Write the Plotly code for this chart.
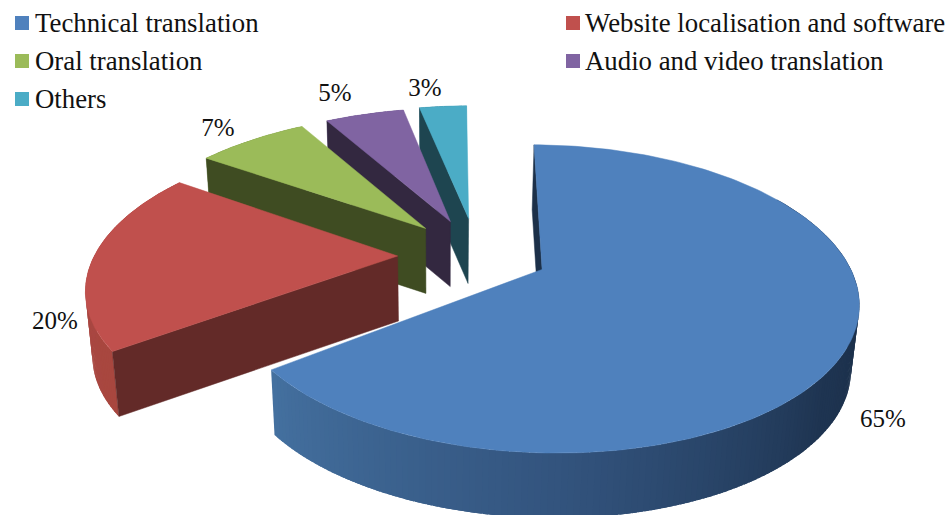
import numpy as np
import plotly.graph_objects as go

# --- data ---
categories = ["Technical translation", "Website localisation and software",
              "Oral translation", "Audio and video translation", "Others"]
shares = [65, 20, 7, 5, 3]
value_labels = ["65%", "20%", "7%", "5%", "3%"]

# --- style ---
top_colors = ["#4f81bd", "#c0504d", "#9bbb59", "#8064a2", "#4bacc6"]
wall_colors = ["#1c3049", "#632a28", "#3f4c22", "#332840", "#1e4550"]
FONT = "Liberation Serif, Times New Roman, serif"
W, H = 949, 515

# --- projection of the tilted pie (disc coordinates -> page pixels) ---
ORIGIN_X, ORIGIN_Y = 478.0, 255.0
SCALE_X, SCALE_Y, PERSP = 303.0, 143.0, 0.188
PULLS = [0.23, 0.265, 0.263, 0.262, 0.27]
RADII = [1.0, 1.0, 1.03, 1.03, 1.03]
ANGLE_SHIFT = [0, 0, 0, 0.6, 0.7]
START_TRIM = [2.0, 1.2, 0, 0, 0]
END_TRIM = [0.7, 0, 0, 0, 0]
START_ANGLE = -1.5
THICK = 65.0
BOTTOM_SHRINK, SHRINK_X = 0.98, 440.0


def project(u, v):
    w = 1 - PERSP * v
    return ORIGIN_X + SCALE_X * u / w, ORIGIN_Y + SCALE_Y * v / w


def lower(x, y):
    return SHRINK_X + (x - SHRINK_X) * BOTTOM_SHRINK, y + THICK


def rim_point(mid, pull, radius, theta):
    m, t = np.radians(mid), np.radians(theta)
    u = pull * np.sin(m) + radius * np.sin(t)
    v = -pull * np.cos(m) - radius * np.cos(t)
    return project(u, v)


def apex(mid, pull):
    m = np.radians(mid)
    return project(pull * np.sin(m), -pull * np.cos(m))


def hex_rgb(c):
    return [int(c[i:i + 2], 16) for i in (1, 3, 5)]


def poly(fig, xs, ys, color, lw=0.5):
    fig.add_trace(go.Scatter(x=list(xs), y=list(ys), mode="lines", fill="toself",
                             fillcolor=color, line=dict(color=color, width=lw),
                             hoverinfo="skip", showlegend=False))


# rim shading by angle
rim_stops = {
    0: ([90, 130, 180, 232.5], ["#1b2e47", "#1f3552", "#33547e", "#44709f"]),
    1: ([232.5, 270, 304.5], ["#a8473f", "#aa4743", "#a84541"]),
    2: ([0, 360], ["#7d9748", "#7d9748"]),
    3: ([0, 360], ["#67508a", "#67508a"]),
    4: ([0, 360], ["#3c8aa0", "#3c8aa0"]),
}

fig = go.Figure()

total = sum(shares)
starts, ends = [], []
acc = START_ANGLE
for s in shares:
    starts.append(acc)
    acc += 360 * s / total
    ends.append(acc)

for i in [4, 3, 2, 1, 0]:
    a0, a1 = starts[i], ends[i]
    mid = (a0 + a1) / 2
    pull, radius = PULLS[i], RADII[i]
    a0 = a0 + START_TRIM[i] + ANGLE_SHIFT[i]
    a1 = a1 + END_TRIM[i] + ANGLE_SHIFT[i]
    ax, ay = apex(mid, pull)
    # outer rim strips, each overlapping the next to hide seams
    edges = np.linspace(a0, a1, max(2, int(a1 - a0) + 1))
    stops, cols = rim_stops[i]
    rgb = np.array([hex_rgb(c) for c in cols], dtype=float)
    step = edges[1] - edges[0]
    for t0, t1 in zip(edges[:-1], edges[1:]):
        tm = (t0 + t1) / 2
        if i == 0 and tm < 60:
            continue
        c = [int(np.interp(tm, stops, rgb[:, k])) for k in range(3)]
        t_over = max(a0, t0 - step * 0.8)
        x0, y0 = rim_point(mid, pull, radius, t_over)
        x1, y1 = rim_point(mid, pull, radius, t1)
        x2, y2 = lower(x1, y1)
        x3, y3 = lower(x0, y0)
        poly(fig, [x0, x1, x2, x3, x0], [y0, y1, y2, y3, y0], "rgb(%d,%d,%d)" % tuple(c), lw=0)
    # radial wall on the leading edge
    sx, sy = rim_point(mid, pull, radius, a0)
    bsx, bsy = lower(sx, sy)
    bax, bay = lower(ax, ay)
    poly(fig, [sx, ax, bax, bsx, sx], [sy, ay, bay, bsy, sy], wall_colors[i])
    # top face
    th = np.linspace(a0, a1, 200)
    px, py = rim_point(mid, pull, radius, th)
    poly(fig, np.r_[ax, px, ax], np.r_[ay, py, ay], top_colors[i])

# value labels
label_x = [883, 55, 218, 335, 425]
label_y = [421, 323, 130, 95, 90]
fig.add_trace(go.Scatter(x=label_x, y=label_y, mode="text", text=value_labels,
                         textposition="middle center",
                         textfont=dict(family=FONT, size=25, color="#111111"),
                         hoverinfo="skip", showlegend=False))

# legend
leg_swatch_x = [22, 573, 22, 573, 22]
leg_text_x = [35, 585, 35, 585, 35]
leg_swatch_y = [23, 23, 61, 61, 99]
leg_text_y = [25, 25, 63, 63, 101]
fig.add_trace(go.Scatter(x=leg_swatch_x, y=leg_swatch_y, mode="markers",
                         marker=dict(symbol="square", size=14, color=top_colors, line=dict(width=0)),
                         hoverinfo="skip", showlegend=False))
fig.add_trace(go.Scatter(x=leg_text_x, y=leg_text_y, mode="text", text=categories,
                         textposition="middle right",
                         textfont=dict(family=FONT, size=26.8, color="#111111"),
                         hoverinfo="skip", showlegend=False))

fig.update_layout(width=W, height=H, margin=dict(l=0, r=0, t=0, b=0),
                  paper_bgcolor="white", plot_bgcolor="white", showlegend=False,
                  xaxis=dict(range=[0, W], visible=False, fixedrange=True),
                  yaxis=dict(range=[H, 0], visible=False, fixedrange=True))
fig.write_html("out.html", config={"displayModeBar": False},
               post_script="document.body.style.margin='0';document.documentElement.style.overflow='hidden';")
